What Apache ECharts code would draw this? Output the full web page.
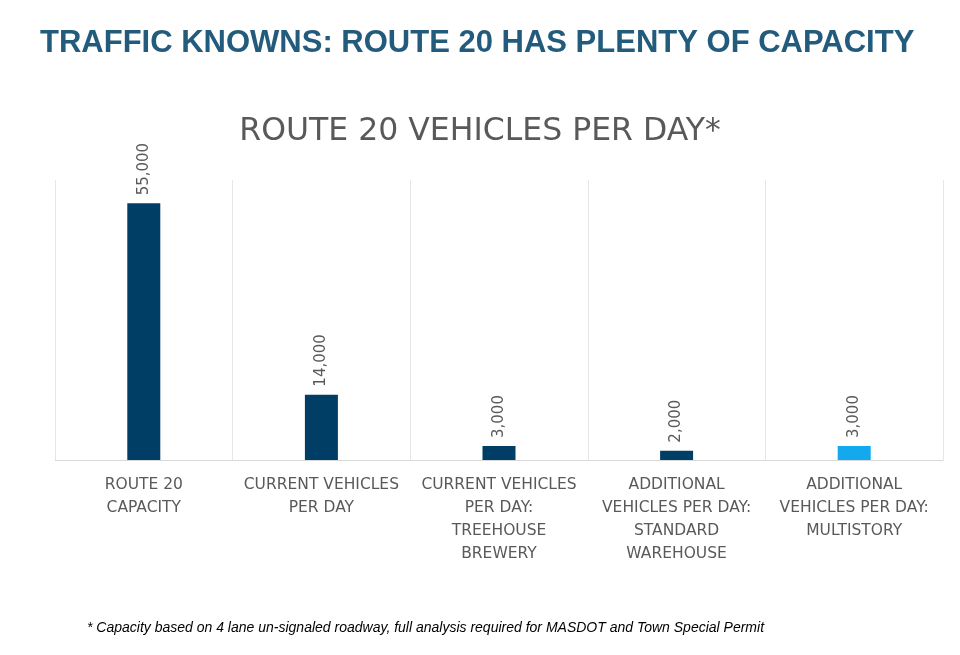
<!DOCTYPE html>
<html><head><meta charset="utf-8">
<script src="https://cdn.jsdelivr.net/npm/echarts@6/dist/echarts.min.js"></script>
<style>html,body{margin:0;padding:0;background:#fff}#c{width:960px;height:655px}</style>
</head><body><div id="c"></div>
<script>
const categories = ["ROUTE 20\nCAPACITY","CURRENT VEHICLES\nPER DAY","CURRENT VEHICLES\nPER DAY:\nTREEHOUSE\nBREWERY","ADDITIONAL\nVEHICLES PER DAY:\nSTANDARD\nWAREHOUSE","ADDITIONAL\nVEHICLES PER DAY:\nMULTISTORY"];
const values = [55000, 14000, 3000, 2000, 3000];
const barColors = ["#003e65","#003e65","#003e65","#003e65","#12a9ee"];
const chart = echarts.init(document.getElementById('c'));
chart.setOption({
  animation:false,
  title:[
    {text:"TRAFFIC KNOWNS: ROUTE 20 HAS PLENTY OF CAPACITY",left:35,top:23,textStyle:{fontFamily:"Liberation Sans",fontWeight:"bold",fontSize:31,color:"#235b7d"}},
    {text:"ROUTE 20 VEHICLES PER DAY*",left:"center",top:111,textStyle:{fontFamily:"DejaVu Sans",fontWeight:"normal",fontSize:31.5,color:"#595959"}},
    {text:"* Capacity based on 4 lane un-signaled roadway, full analysis required for MASDOT and Town Special Permit",left:82,top:616,textStyle:{fontFamily:"Liberation Sans",fontStyle:"italic",fontWeight:"normal",fontSize:14,color:"#000"}}
  ],
  grid:{left:55,right:17,top:180,bottom:195},
  xAxis:{type:"category",data:categories,
    axisLine:{lineStyle:{color:"#d9d9d9"}},axisTick:{show:false},
    splitLine:{show:true,lineStyle:{color:"#e6e6e6"}},
    axisLabel:{interval:0,color:"#595959",fontFamily:"DejaVu Sans",fontSize:15.5,lineHeight:23,margin:13}},
  yAxis:{type:"value",min:0,max:60000,show:false,splitLine:{show:false}},
  series:[{type:"bar",barWidth:33,
    data:values.map((v,i)=>({value:v,itemStyle:{color:barColors[i]}})),
    label:{show:true,position:"top",rotate:90,align:"left",verticalAlign:"middle",distance:8,color:"#595959",fontFamily:"DejaVu Sans",fontSize:15,
      formatter:p=>p.value.toLocaleString("en-US")}}]
});
</script></body></html>
